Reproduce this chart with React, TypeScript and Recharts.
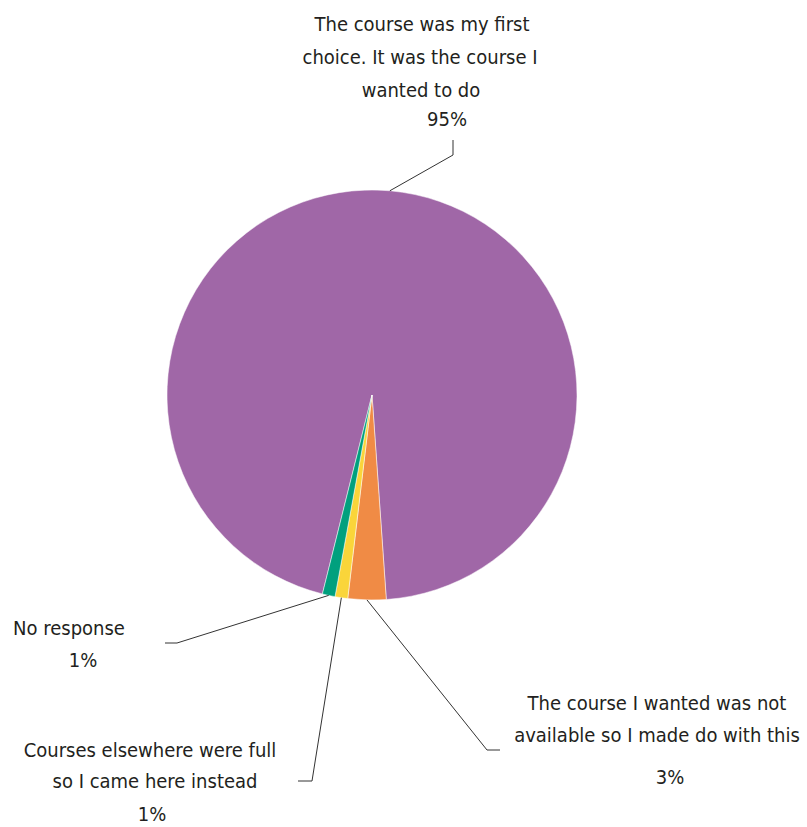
import { Cell, Pie, PieChart } from "recharts";

const categories = [
  "The course was my first choice. It was the course I wanted to do",
  "The course I wanted was not available so I made do with this",
  "Courses elsewhere were full so I came here instead",
  "No response",
];

// how each category name is broken over lines in the chart
const categoryLines = [
  ["The course was my first", "choice. It was the course I", "wanted to do"],
  ["The course I wanted was not", "available so I made do with this"],
  ["Courses elsewhere were full", "so I came here instead"],
  ["No response"],
];

const shares = [95, 3, 1, 1];

const colors = ["#A067A7", "#F08B45", "#FAD53A", "#00A07E"];

// label placement, relative to the pie centre
const labelLayout = [
  { elbow: [81, -240], end: [81, -255], lines: [[50, -364], [48, -331], [49, -298]], pct: [75, -269] },
  { elbow: [115, 355], end: [128, 355], lines: [[285, 315], [285, 347]], pct: [298, 389] },
  { elbow: [-60, 386], end: [-74, 386], lines: [[-222, 362], [-217, 393]], pct: [-220, 426] },
  { elbow: [-195, 248], end: [-207, 248], lines: [[-303, 240]], pct: [-289, 272] },
];

const data = categories.map((name, i) => ({ name, value: shares[i] }));

const RADIAN = Math.PI / 180;
const font = "'DejaVu Sans Condensed', 'Liberation Sans Narrow', sans-serif";

function renderLabel(props: any) {
  const { cx, cy, midAngle, outerRadius, index, value } = props;
  const lay = labelLayout[index];
  const sx = cx + outerRadius * Math.cos(-midAngle * RADIAN);
  const sy = cy + outerRadius * Math.sin(-midAngle * RADIAN);
  const pts = `${sx},${sy} ${cx + lay.elbow[0]},${cy + lay.elbow[1]} ${cx + lay.end[0]},${cy + lay.end[1]}`;
  return (
    <g key={`label-${index}`}>
      <polyline points={pts} fill="none" stroke="#333333" strokeWidth={1} />
      {categoryLines[index].map((line, j) => (
        <text
          key={j}
          x={cx + lay.lines[j][0]}
          y={cy + lay.lines[j][1]}
          textAnchor="middle"
          fill="#231F20"
          fontSize={20}
          fontFamily={font}
        >
          {line}
        </text>
      ))}
      <text
        x={cx + lay.pct[0]}
        y={cy + lay.pct[1]}
        textAnchor="middle"
        fill="#231F20"
        fontSize={20}
        fontFamily={font}
      >
        {`${value}%`}
      </text>
    </g>
  );
}

export default function App() {
  return (
    <div style={{ position: "absolute", left: 0, top: 0, background: "#fff" }}>
      <PieChart width={807} height={827} margin={{ top: 0, right: 0, bottom: 0, left: 0 }}>
        <Pie
          data={data}
          dataKey="value"
          nameKey="name"
          cx={372}
          cy={395}
          outerRadius={205}
          startAngle={256}
          endAngle={-104}
          stroke="#ffffff"
          strokeWidth={0.5}
          label={renderLabel}
          labelLine={false}
          isAnimationActive={false}
        >
          {data.map((entry, i) => (
            <Cell key={entry.name} fill={colors[i]} />
          ))}
        </Pie>
      </PieChart>
    </div>
  );
}
